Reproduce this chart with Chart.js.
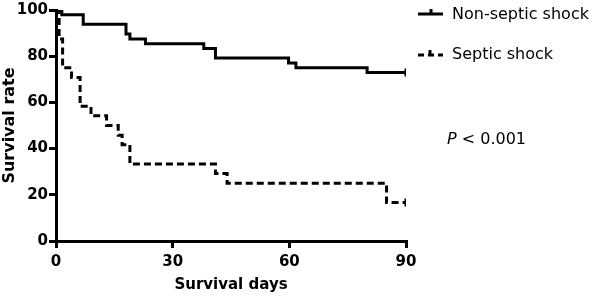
<!DOCTYPE html>
<html>
<head>
<meta charset="utf-8">
<script src="https://cdn.jsdelivr.net/npm/chart.js@4/dist/chart.umd.min.js"></script>
<style>
  html, body { margin: 0; padding: 0; background: #fff; }
  #wrap { width: 597px; height: 298px; position: relative; }
</style>
</head>
<body>
<div id="wrap"><canvas id="chart"></canvas></div>
<script>
// Kaplan-Meier survival
var nonSepticDays = [0, 1.5, 7, 18, 19, 23, 38, 41, 59.8, 61.7, 80, 90];
var nonSepticSurvival = [100, 97.9, 93.8, 89.6, 87.5, 85.4, 83.3, 79.2, 77.1, 75, 72.9, 72.9];

var septicDays = [0, 0.8, 1.7, 4, 6.2, 9, 13, 16, 17, 19, 41, 44, 85, 90];
var septicSurvival = [100, 87.5, 75, 70.8, 58.3, 54.2, 50, 45.8, 41.7, 33.3, 29.2, 25, 16.7, 16.7];

var xTicks = [0, 30, 60, 90];
var yTicks = [0, 20, 40, 60, 80, 100];
var seriesNames = ['Non-septic shock', 'Septic shock'];
var pValueText = '< 0.001';

function toPoints(days, surv) {
    return days.map(function (d, i) { return { x: d, y: surv[i] }; });
}
function censorRadius(arr) {
    return arr.map(function (v, i) { return i === arr.length - 1 ? 4 : 0; });
}

var boldFont = { family: 'DejaVu Sans', size: 15, weight: 'bold' };

var legendPlugin = {
    id: 'kmLegend',
    afterDraw: function (chart) {
        var ctx = chart.ctx;
        ctx.save();
        ctx.strokeStyle = '#000';
        ctx.fillStyle = '#000';
        ctx.lineWidth = 3;
        // solid symbol
        ctx.beginPath();
        ctx.moveTo(418, 14); ctx.lineTo(443, 14);
        ctx.moveTo(431, 14); ctx.lineTo(431, 9);
        ctx.stroke();
        // dashed symbol
        ctx.setLineDash([6, 4]);
        ctx.beginPath();
        ctx.moveTo(418, 55); ctx.lineTo(443, 55);
        ctx.stroke();
        ctx.setLineDash([]);
        ctx.beginPath();
        ctx.moveTo(430, 55); ctx.lineTo(430, 50);
        ctx.stroke();

        ctx.font = '16px "DejaVu Sans"';
        ctx.textBaseline = 'middle';
        ctx.textAlign = 'left';
        ctx.fillText(seriesNames[0], 452, 15);
        ctx.fillText(seriesNames[1], 452, 55);

        ctx.font = 'italic 16px "DejaVu Sans"';
        ctx.fillText('P', 447, 140);
        var w = ctx.measureText('P ').width;
        ctx.font = '16px "DejaVu Sans"';
        ctx.fillText(pValueText, 447 + w, 140);
        ctx.restore();
    }
};

var axisGrid = {
    display: true,
    drawOnChartArea: false,
    drawTicks: true,
    color: '#000',
    lineWidth: 3,
    tickLength: 7,
    tickWidth: 3,
    tickColor: '#000'
};

var chart = new Chart(
    document.getElementById('chart'),
    {
        type: 'line',
        data: {
            datasets: [{
                label: seriesNames[0],
                data: toPoints(nonSepticDays, nonSepticSurvival),
                stepped: true,
                borderColor: '#000',
                backgroundColor: '#000',
                borderWidth: 3,
                fill: false,
                pointStyle: 'line',
                rotation: 90,
                pointRadius: censorRadius(nonSepticDays),
                pointBorderWidth: 3,
                pointBorderColor: '#000'
            },
            {
                label: seriesNames[1],
                data: toPoints(septicDays, septicSurvival),
                stepped: true,
                borderColor: '#000',
                backgroundColor: '#000',
                borderWidth: 3,
                borderDash: [7, 4],
                fill: false,
                pointStyle: 'line',
                rotation: 90,
                pointRadius: censorRadius(septicDays),
                pointBorderWidth: 3,
                pointBorderColor: '#000'
            }]
        },
        options: {
            responsive: true,
            maintainAspectRatio: false,
            animation: false,
            layout: {
                padding: { top: 3, right: 191, left: 0, bottom: 2 }
            },
            plugins: {
                legend: { display: false },
                tooltip: { enabled: false }
            },
            scales: {
                x: {
                    type: 'linear',
                    min: 0,
                    max: 90,
                    afterBuildTicks: function (axis) {
                        axis.ticks = xTicks.map(function (v) { return { value: v }; });
                    },
                    afterFit: function (axis) { axis.height = 55; },
                    grid: axisGrid,
                    border: { display: true, color: '#000', width: 3 },
                    ticks: {
                        color: '#000',
                        font: boldFont,
                        padding: 5,
                        maxRotation: 0
                    },
                    title: {
                        display: true,
                        text: 'Survival days',
                        color: '#000',
                        font: boldFont,
                        padding: { top: 2, bottom: 2 }
                    }
                },
                y: {
                    min: 0,
                    max: 100,
                    afterBuildTicks: function (axis) {
                        axis.ticks = yTicks.map(function (v) { return { value: v }; });
                    },
                    afterFit: function (axis) { axis.width = 56; },
                    grid: axisGrid,
                    border: { display: true, color: '#000', width: 3 },
                    ticks: {
                        color: '#000',
                        font: boldFont,
                        padding: 1
                    },
                    title: {
                        display: true,
                        text: 'Survival rate',
                        color: '#000',
                        font: { family: 'DejaVu Sans', size: 16, weight: 'bold' },
                        padding: { top: 0, bottom: 0 }
                    }
                }
            }
        },
        plugins: [legendPlugin]
    }
);
</script>
</body>
</html>
